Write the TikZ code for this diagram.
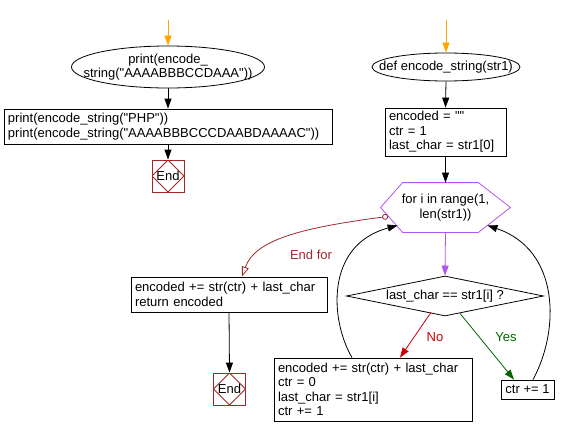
\documentclass[tikz,border=0pt]{standalone}
\usepackage{fontspec}
\setmainfont{Liberation Sans}[Ligatures=TeXOff]
\usetikzlibrary{positioning,shapes.geometric,arrows.meta}

\begin{document}
\begin{tikzpicture}[x=1pt,y=-1pt,line width=0.8pt]
  % some colors
  \definecolor{startc}{RGB}{255,165,0}
  \definecolor{loopc}{RGB}{178,85,237}
  \definecolor{noc}{RGB}{204,0,0}
  \definecolor{yesc}{RGB}{0,102,0}
  \definecolor{endc}{RGB}{160,40,40}
  % some styles
  \tikzset{
    txt/.style={font=\fontsize{13}{14.5}\selectfont},
    stmt/.style={
      txt,
      draw,
      rectangle,
      align=left,
      inner xsep=4pt,
      inner ysep=0pt,
    },
    term/.style={
      txt,
      draw,
      ellipse,
      align=center,
      inner sep=0pt,
    },
    endbox/.style={
      txt,
      draw=endc,
      rectangle,
      minimum size=32pt,
      inner sep=0pt,
      path picture={
        \draw[endc] (path picture bounding box.north) -- (path picture bounding box.east)
          -- (path picture bounding box.south) -- (path picture bounding box.west) -- cycle;
      },
    },
    arr/.style={-{Triangle[width=7pt,length=10pt]}},
  }
  \useasboundingbox (0,0) rectangle (567,436);

  % main program (left)
  \coordinate (start-l) at (168,20);
  \node[term, minimum width=193pt, minimum height=42pt] (prog) at (168,67)
    {\makebox[0pt]{print(encode\_}\\\makebox[0pt]{string("AAAABBBCCDAAA"))}};
  \node[stmt, minimum width=328pt, text width=320pt, minimum height=35pt] (calls) at (168,126.5)
    {print(encode\_string("PHP"))\\print(encode\_string("AAAABBBCCCDAABDAAAAC"))};
  \node[endbox] (end-l) at (168,176) {End};

  \draw[arr, startc] (start-l) -- (prog.north);
  \draw[arr] (prog.south) -- (calls.north);
  \draw[arr] (calls.south) -- (end-l.north);

  % function encode_string (right)
  \coordinate (start-r) at (446,20);
  \node[term, minimum width=148pt, minimum height=28pt] (func) at (446,67)
    {\makebox[0pt]{def encode\_string(str1)}};
  \node[stmt, minimum width=121pt, text width=113pt, minimum height=48pt] (init) at (445.5,132)
    {encoded = ""\\ctr = 1\\last\_char = str1[0]};

  % for loop (hexagon)
  \node[txt, align=center, minimum width=129pt, minimum height=49pt, inner sep=0pt] (loop) at (445.5,207.5)
    {for i in range(1,\\len(str1))};
  \draw[loopc] (loop.west) -- ([xshift=22pt]loop.north west) -- ([xshift=-32pt]loop.north east)
    -- (loop.east) -- ([xshift=-32pt]loop.south east) -- ([xshift=22pt]loop.south west) -- cycle;

  \node[txt, draw, diamond, aspect=4.9, minimum width=197pt, minimum height=40pt, inner sep=0pt] (test)
    at (445,296) {last\_char == str1[i] ?};
  \node[stmt, minimum width=198pt, text width=190pt, minimum height=63pt] (work) at (373,389.5)
    {encoded += str(ctr) + last\_char\\ctr = 0\\last\_char = str1[i]\\ctr += 1};
  \node[stmt, minimum width=53pt, minimum height=19pt] (incr) at (527.5,389.5) {ctr += 1};
  \node[stmt, minimum width=196pt, text width=188pt, minimum height=35pt] (done) at (229,294.5)
    {encoded += str(ctr) + last\_char\\return encoded};
  \node[endbox] (end-r) at (229.5,389) {End};

  \draw[arr, startc] (start-r) -- (func.north);
  \draw[arr] (func.south) -- (init.north);
  \draw[arr] (init.south) -- (loop.north);
  \draw[arr, loopc] (loop.south) -- (test.north);

  % branches
  \draw[arr, noc] ([xshift=-14pt,yshift=4pt]test.south) -- ([xshift=27pt]work.north);
  \draw[arr, yesc] ([xshift=15pt,yshift=3pt]test.south) -- ([xshift=-13.5pt]incr.north);
  \node[txt, text=noc] (lbl-no) at (435,337) {No};
  \node[txt, text=yesc] (lbl-yes) at (506,337) {Yes};

  % back to the loop
  \draw[arr] ([xshift=-21pt]work.north) .. controls (330,320) and (325,245) .. ([xshift=17pt,yshift=7pt]loop.south west);
  \draw[arr] ([xshift=5.5pt]incr.north) .. controls (560,330) and (560,250) .. ([xshift=-23pt,yshift=7pt]loop.south east);

  % leaving the loop
  \draw[endc, {Circle[open,length=6pt]}-{Triangle[open,width=7pt,length=10pt]}]
    ([xshift=7.5pt,yshift=16pt]loop.south west) .. controls (300,228) and (255,240) .. ([xshift=13pt]done.north);
  \node[txt, text=endc] (lbl-end) at (311,255) {End for};
  \draw[arr] (done.south) -- (end-r.north);
\end{tikzpicture}
\end{document}
